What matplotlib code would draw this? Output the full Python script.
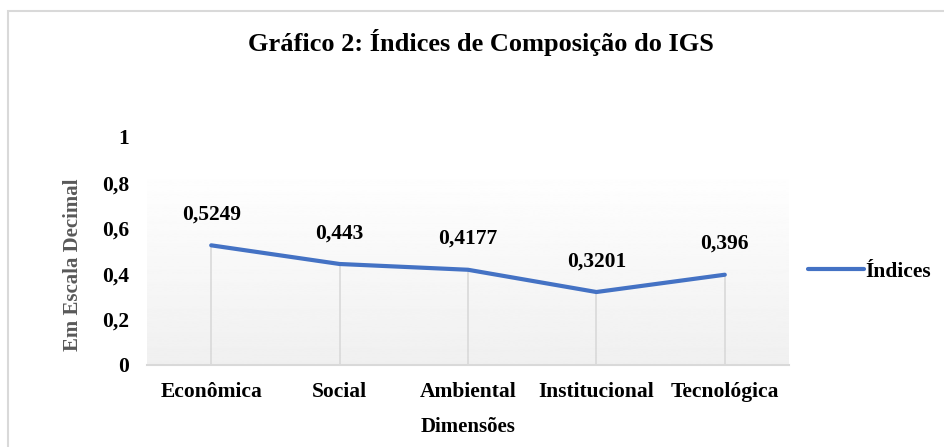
import numpy as np
import matplotlib.pyplot as plt
from matplotlib.patches import Rectangle

# dados do gráfico
dimensoes = ["Econômica", "Social", "Ambiental", "Institucional", "Tecnológica"]
indices = [0.5249, 0.443, 0.4177, 0.3201, 0.396]
rotulos = ["0,5249", "0,443", "0,4177", "0,3201", "0,396"]
yticks = [0, 0.2, 0.4, 0.6, 0.8, 1]
ytick_labels = ["0", "0,2", "0,4", "0,6", "0,8", "1"]

plt.rcParams['font.family'] = ['Liberation Serif', 'DejaVu Serif']
plt.rcParams['font.weight'] = 'bold'

fig = plt.figure(figsize=(9.44, 4.47), dpi=100)
ax = fig.add_axes([147/944, 1 - 365/447, (789-147)/944, (365-137)/447])

# moldura externa
fig.patches.append(Rectangle((8/944, -0.1), 1.2, 1 - 11/447 + 0.1, transform=fig.transFigure,
                             fill=False, edgecolor='#d9d9d9', linewidth=1.5))

x = np.arange(len(dimensoes))

# fundo em degradê da área de plotagem
grad = np.linspace(0.94, 1.0, 256).reshape(-1, 1)
ax.imshow(grad, extent=(-0.5, 4.5, 0, 0.87), origin='lower', aspect='auto',
          cmap='gray', vmin=0, vmax=1, zorder=0)

# linhas de queda
ax.vlines(x, 0, indices, color='#d9d9d9', linewidth=1.2, zorder=1)
ax.plot(x, indices, color='#4472C4', linewidth=3, solid_capstyle='round',
        label='Índices', zorder=3)

for xi, yi, lab in zip(x, indices, rotulos):
    ax.annotate(lab, (xi, yi), xytext=(0, 15), textcoords='offset points',
                ha='center', va='bottom', fontsize=15.5, fontweight='bold')

ax.set_xlim(-0.5, 4.5)
ax.set_ylim(0, 1)
ax.set_xticks(x)
ax.set_xticklabels(dimensoes, fontsize=15.5, fontweight='bold')
ax.set_yticks(yticks)
ax.set_yticklabels(ytick_labels, fontsize=15.5, fontweight='bold')
ax.tick_params(length=0)
ax.tick_params(axis='x', pad=12)
ax.tick_params(axis='y', pad=13)
for s in ['top', 'right', 'left']:
    ax.spines[s].set_visible(False)
ax.spines['bottom'].set_color('#d9d9d9')
ax.spines['bottom'].set_linewidth(1.5)

ax.set_xlabel("Dimensões", fontsize=15, fontweight='bold', labelpad=11)
ax.set_ylabel("Em Escala Decimal", fontsize=15, fontweight='bold', color='#595959')
ax.yaxis.set_label_coords((83 - 147) / 642, (365 - 265) / 228)

fig.text(481/944, 1 - 42/447, "Gráfico 2: Índices de Composição do IGS", ha='center', va='center',
         fontsize=19, fontweight='bold')

ax.legend(loc='center left', bbox_to_anchor=(1.0, 0.41), frameon=False, fontsize=15.5,
          handlelength=2.6, handletextpad=0.05)

fig.savefig('out.png', dpi=100)
